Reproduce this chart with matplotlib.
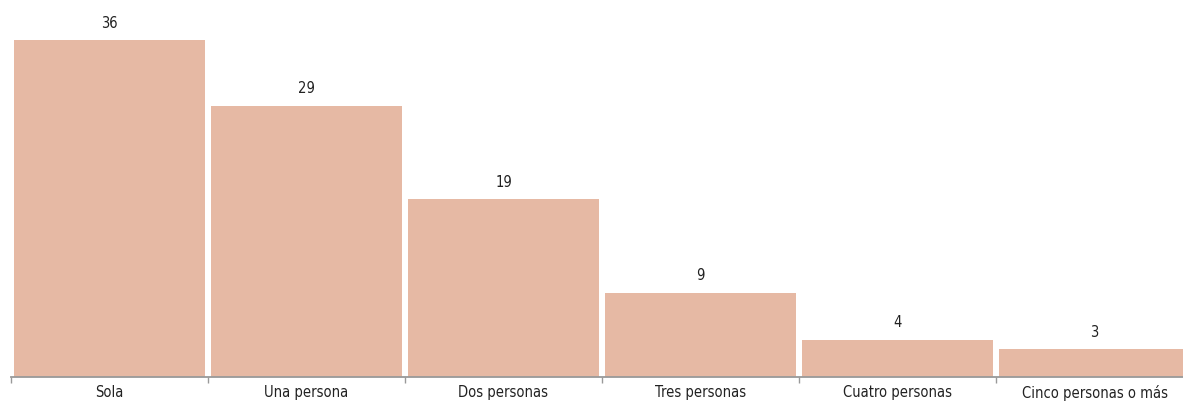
import numpy as np
import matplotlib
matplotlib.use('Agg')
import matplotlib.pyplot as plt

categories = ['Sola', 'Una persona', 'Dos personas', 'Tres personas',
              'Cuatro personas', 'Cinco personas o más']
values = [36, 29, 19, 9, 4, 3]

plt.rcParams['font.family'] = ['DejaVu Sans']
plt.rcParams['font.stretch'] = 'condensed'

fig = plt.figure(figsize=(11.83, 4.01), dpi=100)
# axes: left edge at x=11px, baseline at y=377px
ax = fig.add_axes([11 / 1183, 24 / 401, 1 - 11 / 1183, 377 / 401])

x = np.arange(len(categories))
bars = ax.bar(x, values, width=0.97, color='#e6b9a4', edgecolor='none')

for xi, v in zip(x, values):
    ax.text(xi, v + 1.0, str(v), ha='center', va='bottom',
            fontsize=10.5, color='#222222', stretch='condensed')

ax.set_xlim(-0.5, 5.5 - 10 / 197)
ax.set_ylim(0, 40.28)

ax.set_xticks(x)
ax.set_xticklabels(categories, fontsize=10.5, color='#222222', stretch='condensed')
ax.tick_params(axis='x', which='major', length=0, pad=6)
ax.set_xticks(np.arange(len(categories)) - 0.5, minor=True)
ax.tick_params(axis='x', which='minor', length=4, color='#999999', width=1)
ax.set_yticks([])

for s in ['top', 'right', 'left']:
    ax.spines[s].set_visible(False)
ax.spines['bottom'].set_color('#999999')
ax.spines['bottom'].set_linewidth(1.3)

fig.savefig('out.png', dpi=100)
